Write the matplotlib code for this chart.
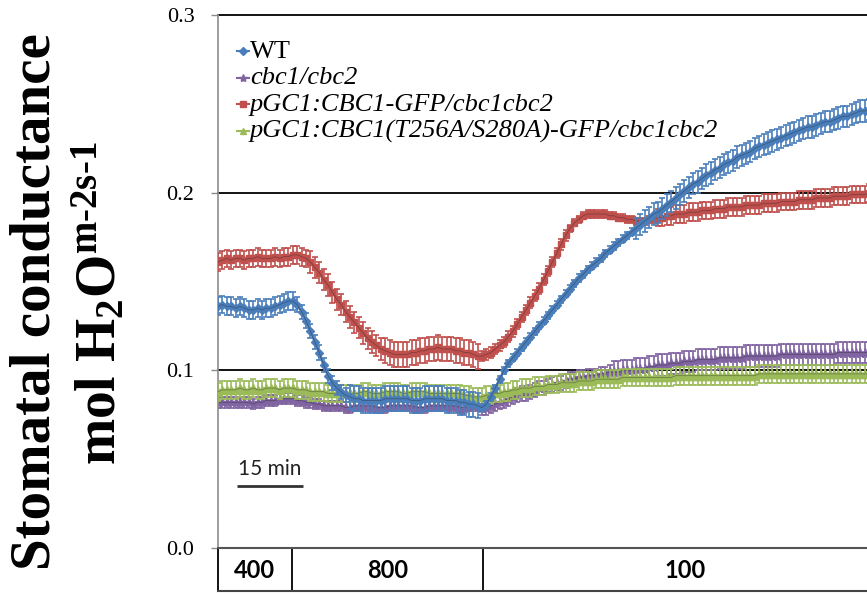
import matplotlib
matplotlib.use("Agg")
import matplotlib.pyplot as plt
import matplotlib.transforms as mtransforms
from matplotlib.lines import Line2D

plt.rcParams['mathtext.fontset'] = 'custom'
plt.rcParams['mathtext.rm'] = 'Liberation Serif:bold'
plt.rcParams['mathtext.it'] = 'Liberation Serif:italic:bold'
plt.rcParams['mathtext.bf'] = 'Liberation Serif:bold'

SERIF = ['Liberation Serif', 'DejaVu Serif']
SANS = ['Lato', 'DejaVu Sans']

# time in minutes, one reading per minute
minutes = list(range(149))

wt = [0.136, 0.137, 0.136, 0.136, 0.135, 0.136, 0.135, 0.134, 0.134, 0.135,
      0.134, 0.135, 0.135, 0.136, 0.137, 0.138, 0.139, 0.139, 0.137, 0.133,
      0.128, 0.122, 0.116, 0.110, 0.103, 0.097, 0.093, 0.090, 0.088, 0.086,
      0.085, 0.084, 0.084, 0.083, 0.083, 0.083, 0.083, 0.083, 0.084, 0.084,
      0.084, 0.084, 0.084, 0.084, 0.083, 0.083, 0.083, 0.084, 0.084, 0.084,
      0.084, 0.084, 0.083, 0.083, 0.083, 0.082, 0.082, 0.081, 0.081, 0.080,
      0.079, 0.081, 0.085, 0.090, 0.095, 0.100, 0.104, 0.107, 0.110, 0.113,
      0.116, 0.119, 0.122, 0.125, 0.128, 0.131, 0.134, 0.137, 0.140, 0.143,
      0.146, 0.149, 0.152, 0.154, 0.157, 0.159, 0.161, 0.163, 0.166, 0.168,
      0.170, 0.172, 0.174, 0.176, 0.178, 0.180, 0.182, 0.184, 0.186, 0.188,
      0.189, 0.191, 0.193, 0.195, 0.197, 0.199, 0.201, 0.203, 0.205, 0.206,
      0.208, 0.210, 0.211, 0.213, 0.214, 0.216, 0.217, 0.218, 0.220, 0.221,
      0.222, 0.223, 0.225, 0.226, 0.227, 0.228, 0.229, 0.230, 0.231, 0.232,
      0.233, 0.234, 0.235, 0.236, 0.237, 0.237, 0.238, 0.239, 0.240, 0.240,
      0.241, 0.242, 0.243, 0.243, 0.244, 0.245, 0.246, 0.246, 0.247]

cbc = [0.082, 0.082, 0.082, 0.082, 0.082, 0.082, 0.082, 0.082, 0.081, 0.082,
       0.082, 0.083, 0.083, 0.083, 0.084, 0.084, 0.084, 0.084, 0.083, 0.083,
       0.082, 0.082, 0.081, 0.081, 0.080, 0.080, 0.080, 0.080, 0.080, 0.079,
       0.079, 0.080, 0.080, 0.080, 0.080, 0.080, 0.079, 0.079, 0.079, 0.080,
       0.080, 0.080, 0.080, 0.080, 0.080, 0.079, 0.079, 0.079, 0.080, 0.080,
       0.080, 0.080, 0.080, 0.080, 0.080, 0.079, 0.079, 0.080, 0.080, 0.080,
       0.079, 0.079, 0.080, 0.081, 0.082, 0.083, 0.084, 0.085, 0.086, 0.087,
       0.087, 0.088, 0.089, 0.090, 0.090, 0.091, 0.092, 0.093, 0.093, 0.094,
       0.095, 0.095, 0.096, 0.096, 0.097, 0.097, 0.097, 0.098, 0.098, 0.099,
       0.099, 0.099, 0.100, 0.100, 0.100, 0.101, 0.101, 0.101, 0.102, 0.102,
       0.103, 0.103, 0.103, 0.104, 0.104, 0.104, 0.105, 0.105, 0.105, 0.106,
       0.106, 0.106, 0.106, 0.106, 0.107, 0.107, 0.107, 0.107, 0.107, 0.107,
       0.108, 0.108, 0.108, 0.108, 0.108, 0.108, 0.108, 0.108, 0.109, 0.109,
       0.109, 0.109, 0.109, 0.109, 0.109, 0.109, 0.109, 0.109, 0.109, 0.109,
       0.109, 0.110, 0.110, 0.110, 0.110, 0.110, 0.110, 0.110, 0.110]

gfp = [0.161, 0.162, 0.163, 0.162, 0.163, 0.163, 0.162, 0.163, 0.163, 0.164,
       0.163, 0.163, 0.163, 0.164, 0.163, 0.164, 0.164, 0.165, 0.165, 0.164,
       0.163, 0.161, 0.158, 0.155, 0.151, 0.148, 0.144, 0.140, 0.137, 0.133,
       0.130, 0.127, 0.124, 0.121, 0.118, 0.116, 0.114, 0.112, 0.111, 0.110,
       0.109, 0.109, 0.109, 0.109, 0.110, 0.110, 0.111, 0.111, 0.112, 0.112,
       0.113, 0.112, 0.112, 0.112, 0.111, 0.111, 0.110, 0.110, 0.109, 0.108,
       0.108, 0.109, 0.110, 0.112, 0.114, 0.116, 0.119, 0.122, 0.126, 0.130,
       0.134, 0.138, 0.142, 0.146, 0.151, 0.156, 0.161, 0.166, 0.171, 0.176,
       0.180, 0.183, 0.185, 0.187, 0.188, 0.188, 0.188, 0.188, 0.188, 0.187,
       0.187, 0.186, 0.186, 0.185, 0.185, 0.184, 0.184, 0.184, 0.185, 0.185,
       0.186, 0.186, 0.187, 0.187, 0.188, 0.188, 0.188, 0.189, 0.189, 0.189,
       0.190, 0.190, 0.190, 0.191, 0.191, 0.191, 0.192, 0.192, 0.192, 0.192,
       0.193, 0.193, 0.193, 0.193, 0.194, 0.194, 0.194, 0.194, 0.195, 0.195,
       0.195, 0.195, 0.196, 0.196, 0.196, 0.196, 0.197, 0.197, 0.197, 0.197,
       0.198, 0.198, 0.198, 0.198, 0.199, 0.199, 0.199, 0.199, 0.200]

mut = [0.088, 0.089, 0.089, 0.089, 0.089, 0.090, 0.089, 0.089, 0.090, 0.089,
       0.089, 0.090, 0.090, 0.090, 0.089, 0.090, 0.090, 0.090, 0.089, 0.089,
       0.089, 0.088, 0.088, 0.088, 0.088, 0.087, 0.087, 0.087, 0.087, 0.087,
       0.087, 0.087, 0.087, 0.088, 0.088, 0.087, 0.087, 0.087, 0.088, 0.088,
       0.088, 0.088, 0.087, 0.087, 0.088, 0.088, 0.088, 0.088, 0.087, 0.087,
       0.087, 0.087, 0.087, 0.087, 0.087, 0.087, 0.086, 0.086, 0.085, 0.085,
       0.085, 0.086, 0.086, 0.087, 0.087, 0.088, 0.088, 0.089, 0.089, 0.090,
       0.090, 0.090, 0.091, 0.091, 0.091, 0.092, 0.092, 0.092, 0.093, 0.093,
       0.093, 0.093, 0.094, 0.094, 0.094, 0.094, 0.095, 0.095, 0.095, 0.095,
       0.095, 0.095, 0.096, 0.096, 0.096, 0.096, 0.096, 0.096, 0.096, 0.096,
       0.096, 0.096, 0.096, 0.096, 0.097, 0.097, 0.097, 0.097, 0.097, 0.097,
       0.097, 0.097, 0.097, 0.097, 0.097, 0.097, 0.097, 0.097, 0.097, 0.097,
       0.097, 0.097, 0.097, 0.098, 0.098, 0.098, 0.098, 0.098, 0.098, 0.098,
       0.098, 0.098, 0.098, 0.098, 0.098, 0.098, 0.098, 0.098, 0.098, 0.098,
       0.098, 0.098, 0.098, 0.098, 0.098, 0.098, 0.098, 0.098, 0.098]

# standard errors, read per stretch of the trace
wt_err = [0.005]*18 + [0.004]*12 + [0.007]*30 + [0.002]*35 + [0.006]*54
cbc_err = [0.003]*60 + [0.004]*30 + [0.006]*59
gfp_err = [0.005]*21 + [0.006]*17 + [0.007]*22 + [0.003]*20 + [0.002]*20 + [0.005]*49
mut_err = [0.005]*149

labels = ["WT", "cbc1/cbc2", "pGC1:CBC1-GFP/cbc1cbc2",
          "pGC1:CBC1(T256A/S280A)-GFP/cbc1cbc2"]
co2_levels = ["400", "800", "100"]
co2_edges = [0, 16.8, 60.2, 152]

W, H = 867, 594
fig = plt.figure(figsize=(W / 100, H / 100), dpi=100)


def px(x, y):
    return x / W, 1 - y / H


ax = fig.add_axes([218 / W, (H - 548) / H, (867 - 218) / W, (548 - 15) / H])

colors = ['#4A7EBB', '#8064A2', '#C0504D', '#9BBB59']
markers = ['D', '*', 's', '^']
sizes = [4.2, 6.5, 5.0, 5.5]
order = [5, 2, 3, 4]
for vals, err, c, m, ms, z in zip([wt, cbc, gfp, mut],
                                  [wt_err, cbc_err, gfp_err, mut_err],
                                  colors, markers, sizes, order):
    ax.errorbar(minutes, vals, yerr=err, fmt=m, ms=ms, color=c, mec=c,
                ecolor=c, elinewidth=1.2, capsize=2.3, capthick=1.2,
                ls='-', lw=1.8, zorder=z)
    ax.plot(minutes, vals, color='#222222', lw=0.6, alpha=0.4, zorder=z + 0.5)

ax.set_xlim(0, 147.5)
ax.set_ylim(0, 0.3)
for v in [0.1, 0.2, 0.3]:
    ax.axhline(v, color='black', lw=1.3, zorder=1, clip_on=False)

for s in ['top', 'right']:
    ax.spines[s].set_visible(False)
ax.spines['left'].set_color('#8c8c8c')
ax.spines['left'].set_linewidth(1.2)
ax.spines['bottom'].set_color('#555555')
ax.spines['bottom'].set_linewidth(1.5)

ax.set_xticks([])
ax.set_yticks([0.0, 0.1, 0.2, 0.3])
ax.set_yticklabels(['0.0', '0.1', '0.2', '0.3'], family=SERIF, fontsize=16)
ax.tick_params(axis='y', length=5, width=1, color='#8c8c8c', pad=12)

# y label, two lines
fig.text(*px(36, 302), "Stomatal conductance", rotation=90, ha='center',
         va='center', family=SERIF, weight='bold', fontsize=41)
fig.text(*px(100, 303), r"mol H$_{2}$O$^{\text{m-2s-1}}$", rotation=90,
         ha='center', va='center', family=SERIF, weight='bold', fontsize=40)

# legend drawn by hand to match the tight row spacing
leg_sizes = [4, 6, 5, 5]
baselines = [58, 84.5, 111, 137.5]
for lab, m, c, ms, b in zip(labels, markers, colors, leg_sizes, baselines):
    x0, y0 = px(237, b - 7)
    x1, _ = px(249, b - 7)
    xm, _ = px(243, b - 7)
    fig.add_artist(Line2D([x0, x1], [y0, y0], color=c, lw=1.5,
                          transform=fig.transFigure))
    fig.add_artist(Line2D([xm], [y0], marker=m, ms=ms, color=c,
                          transform=fig.transFigure))
    fig.text(*px(250, b), lab, family=SERIF, fontsize=19,
             style='normal' if lab == 'WT' else 'italic', va='baseline')

# 15 min scale bar
ax.plot([4.3, 19.3], [0.035, 0.035], color='#333333', lw=2, solid_capstyle='butt')
ax.text(11.8, 0.041, "15 min", family=SANS, fontsize=15, ha='center',
        va='baseline', color='#222222')

# CO2 boxes below the axis
tr = mtransforms.blended_transform_factory(ax.transData, ax.transAxes)
bottom = -(591 - 548) / 533
for e in co2_edges[:3]:
    ax.plot([e, e], [0, bottom], color='black', lw=1.3, transform=tr,
            clip_on=False)
ax.plot([0, co2_edges[-1]], [bottom, bottom], color='#444444', lw=1.5,
        transform=tr, clip_on=False)
for lvl, a, b in zip(co2_levels, co2_edges[:-1], co2_edges[1:]):
    ax.text((a + b) / 2, -(570 - 548) / 533, lvl, transform=tr, ha='center',
            va='center', family=SANS, weight='bold', fontsize=17)

fig.savefig("out.png", dpi=100)
